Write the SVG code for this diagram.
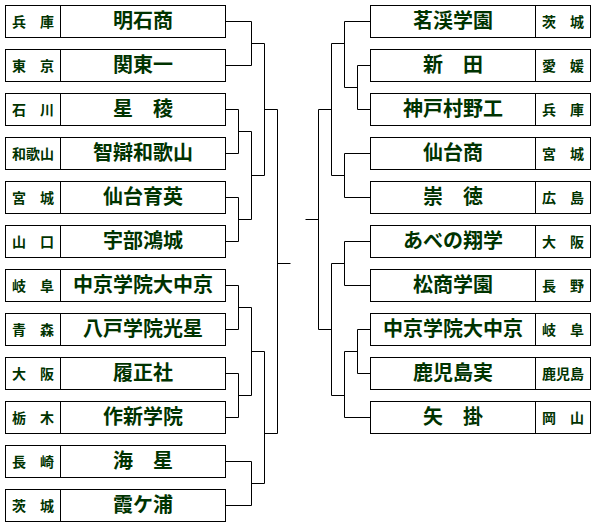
<svg xmlns="http://www.w3.org/2000/svg" width="594" height="526" viewBox="0 0 594 526">
<style>
.box{fill:#fff;stroke:#000;stroke-width:1}
.div{stroke:#000;stroke-width:1}
.nm{font-family:"Noto Sans CJK JP","Noto Sans CJK SC",sans-serif;font-weight:bold;font-size:20px;fill:#003300;text-anchor:middle}
.pf{font-family:"Noto Sans CJK JP","Noto Sans CJK SC",sans-serif;font-weight:bold;font-size:14px;fill:#003300;text-anchor:middle}
.con{fill:none;stroke:#000;stroke-width:1}
</style>
<rect width="594" height="526" fill="#fff"/>
<g id="connectors" class="con">
<path d="M225.5,21.5H251.5V65.5H225.5M251.5,43.5H264.5"/>
<path d="M225.5,109.5H238.5V153.5H225.5M238.5,131.5H251.5"/>
<path d="M225.5,197.5H238.5V241.5H225.5M238.5,219.5H251.5"/>
<path d="M251.5,131.5V219.5M251.5,175.5H264.5"/>
<path d="M264.5,43.5V175.5M264.5,109.5H277.5"/>
<path d="M225.5,285.5H238.5V329.5H225.5M238.5,307.5H251.5"/>
<path d="M225.5,373.5H238.5V417.5H225.5M238.5,395.5H251.5"/>
<path d="M251.5,307.5V395.5M251.5,351.5H264.5"/>
<path d="M225.5,461.5H251.5V505.5H225.5M251.5,483.5H264.5"/>
<path d="M264.5,351.5V483.5M264.5,433.5H277.5"/>
<path d="M277.5,109.5V433.5M277.5,263.5H290.5"/>
<path d="M370.5,21.5H344.5"/>
<path d="M370.5,65.5H357.5V109.5H370.5M357.5,87.5H344.5"/>
<path d="M344.5,21.5V87.5M344.5,43.5H331.5"/>
<path d="M370.5,153.5H344.5V197.5H370.5M344.5,175.5H331.5"/>
<path d="M331.5,43.5V175.5M331.5,109.5H318.5"/>
<path d="M370.5,241.5H344.5V285.5H370.5M344.5,263.5H331.5"/>
<path d="M370.5,329.5H357.5V373.5H370.5M357.5,351.5H344.5"/>
<path d="M370.5,417.5H344.5V351.5M344.5,395.5H331.5"/>
<path d="M331.5,263.5V395.5M331.5,329.5H318.5"/>
<path d="M318.5,109.5V329.5M318.5,219.5H305.5"/>
</g>
<g id="L0"><rect class="box" x="5.5" y="5.5" width="220" height="32"/><line class="div" x1="60.5" y1="5.5" x2="60.5" y2="37.5"/><text class="pf" x="33" y="27">兵　庫</text><text class="nm" x="143" y="28">明石商</text></g>
<g id="L1"><rect class="box" x="5.5" y="49.5" width="220" height="32"/><line class="div" x1="60.5" y1="49.5" x2="60.5" y2="81.5"/><text class="pf" x="33" y="71">東　京</text><text class="nm" x="143" y="72">関東一</text></g>
<g id="L2"><rect class="box" x="5.5" y="93.5" width="220" height="32"/><line class="div" x1="60.5" y1="93.5" x2="60.5" y2="125.5"/><text class="pf" x="33" y="115">石　川</text><text class="nm" x="143" y="116">星　稜</text></g>
<g id="L3"><rect class="box" x="5.5" y="137.5" width="220" height="32"/><line class="div" x1="60.5" y1="137.5" x2="60.5" y2="169.5"/><text class="pf" x="33" y="159">和歌山</text><text class="nm" x="143" y="160">智辯和歌山</text></g>
<g id="L4"><rect class="box" x="5.5" y="181.5" width="220" height="32"/><line class="div" x1="60.5" y1="181.5" x2="60.5" y2="213.5"/><text class="pf" x="33" y="203">宮　城</text><text class="nm" x="143" y="204">仙台育英</text></g>
<g id="L5"><rect class="box" x="5.5" y="225.5" width="220" height="32"/><line class="div" x1="60.5" y1="225.5" x2="60.5" y2="257.5"/><text class="pf" x="33" y="247">山　口</text><text class="nm" x="143" y="248">宇部鴻城</text></g>
<g id="L6"><rect class="box" x="5.5" y="269.5" width="220" height="32"/><line class="div" x1="60.5" y1="269.5" x2="60.5" y2="301.5"/><text class="pf" x="33" y="291">岐　阜</text><text class="nm" x="143" y="292">中京学院大中京</text></g>
<g id="L7"><rect class="box" x="5.5" y="313.5" width="220" height="32"/><line class="div" x1="60.5" y1="313.5" x2="60.5" y2="345.5"/><text class="pf" x="33" y="335">青　森</text><text class="nm" x="143" y="336">八戸学院光星</text></g>
<g id="L8"><rect class="box" x="5.5" y="357.5" width="220" height="32"/><line class="div" x1="60.5" y1="357.5" x2="60.5" y2="389.5"/><text class="pf" x="33" y="379">大　阪</text><text class="nm" x="143" y="380">履正社</text></g>
<g id="L9"><rect class="box" x="5.5" y="401.5" width="220" height="32"/><line class="div" x1="60.5" y1="401.5" x2="60.5" y2="433.5"/><text class="pf" x="33" y="423">栃　木</text><text class="nm" x="143" y="424">作新学院</text></g>
<g id="L10"><rect class="box" x="5.5" y="445.5" width="220" height="32"/><line class="div" x1="60.5" y1="445.5" x2="60.5" y2="477.5"/><text class="pf" x="33" y="467">長　崎</text><text class="nm" x="143" y="468">海　星</text></g>
<g id="L11"><rect class="box" x="5.5" y="489.5" width="220" height="32"/><line class="div" x1="60.5" y1="489.5" x2="60.5" y2="521.5"/><text class="pf" x="33" y="511">茨　城</text><text class="nm" x="143" y="512">霞ケ浦</text></g>
<g id="R0"><rect class="box" x="370.5" y="5.5" width="220" height="32"/><line class="div" x1="535.5" y1="5.5" x2="535.5" y2="37.5"/><text class="nm" x="453" y="28">茗渓学園</text><text class="pf" x="563" y="27">茨　城</text></g>
<g id="R1"><rect class="box" x="370.5" y="49.5" width="220" height="32"/><line class="div" x1="535.5" y1="49.5" x2="535.5" y2="81.5"/><text class="nm" x="453" y="72">新　田</text><text class="pf" x="563" y="71">愛　媛</text></g>
<g id="R2"><rect class="box" x="370.5" y="93.5" width="220" height="32"/><line class="div" x1="535.5" y1="93.5" x2="535.5" y2="125.5"/><text class="nm" x="453" y="116">神戸村野工</text><text class="pf" x="563" y="115">兵　庫</text></g>
<g id="R3"><rect class="box" x="370.5" y="137.5" width="220" height="32"/><line class="div" x1="535.5" y1="137.5" x2="535.5" y2="169.5"/><text class="nm" x="453" y="160">仙台商</text><text class="pf" x="563" y="159">宮　城</text></g>
<g id="R4"><rect class="box" x="370.5" y="181.5" width="220" height="32"/><line class="div" x1="535.5" y1="181.5" x2="535.5" y2="213.5"/><text class="nm" x="453" y="204">崇　徳</text><text class="pf" x="563" y="203">広　島</text></g>
<g id="R5"><rect class="box" x="370.5" y="225.5" width="220" height="32"/><line class="div" x1="535.5" y1="225.5" x2="535.5" y2="257.5"/><text class="nm" x="453" y="248">あべの翔学</text><text class="pf" x="563" y="247">大　阪</text></g>
<g id="R6"><rect class="box" x="370.5" y="269.5" width="220" height="32"/><line class="div" x1="535.5" y1="269.5" x2="535.5" y2="301.5"/><text class="nm" x="453" y="292">松商学園</text><text class="pf" x="563" y="291">長　野</text></g>
<g id="R7"><rect class="box" x="370.5" y="313.5" width="220" height="32"/><line class="div" x1="535.5" y1="313.5" x2="535.5" y2="345.5"/><text class="nm" x="453" y="336">中京学院大中京</text><text class="pf" x="563" y="335">岐　阜</text></g>
<g id="R8"><rect class="box" x="370.5" y="357.5" width="220" height="32"/><line class="div" x1="535.5" y1="357.5" x2="535.5" y2="389.5"/><text class="nm" x="453" y="380">鹿児島実</text><text class="pf" x="563" y="379">鹿児島</text></g>
<g id="R9"><rect class="box" x="370.5" y="401.5" width="220" height="32"/><line class="div" x1="535.5" y1="401.5" x2="535.5" y2="433.5"/><text class="nm" x="453" y="424">矢　掛</text><text class="pf" x="563" y="423">岡　山</text></g>
</svg>
